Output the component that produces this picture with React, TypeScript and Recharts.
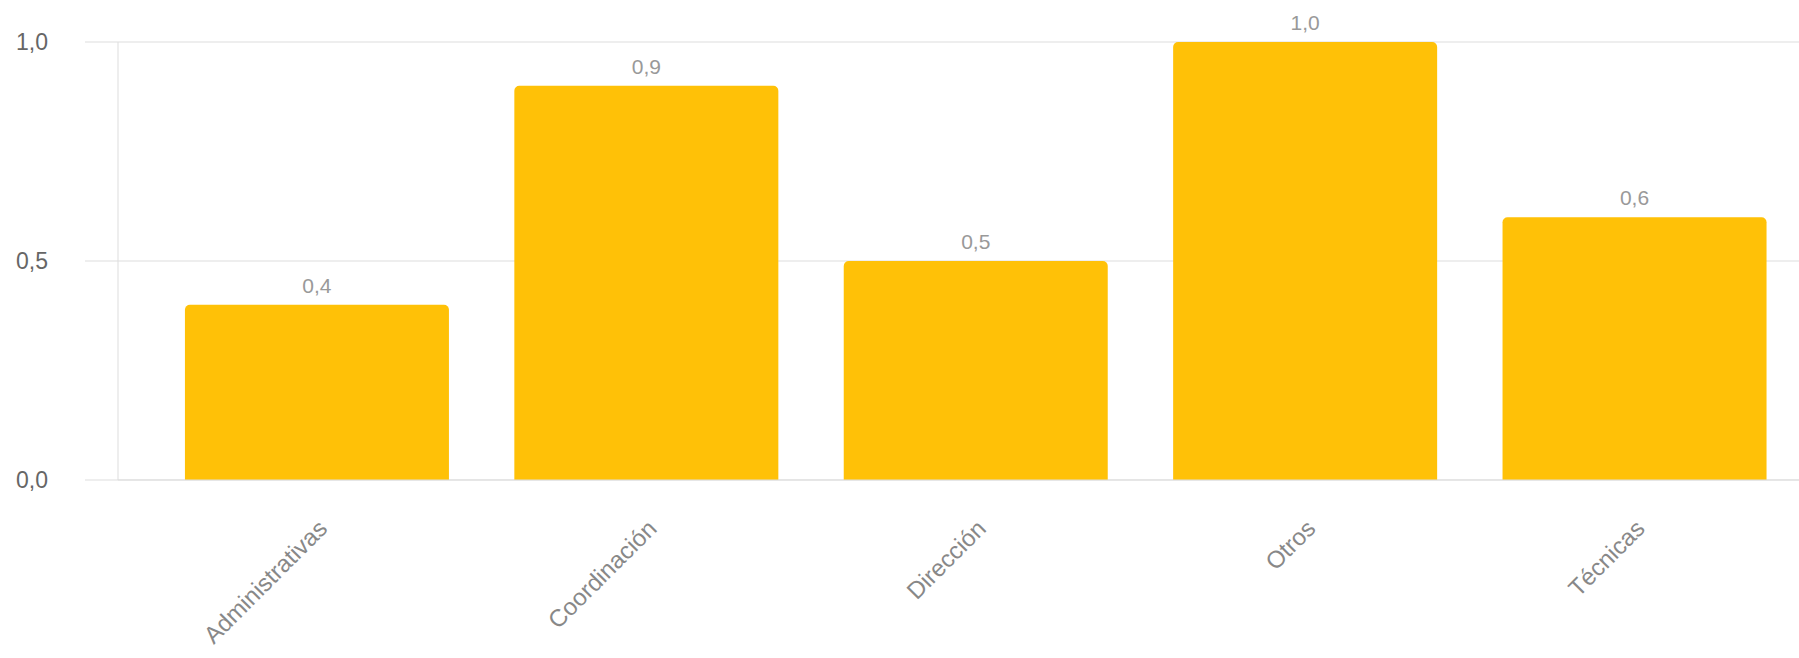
import React from 'react';
import {
  BarChart,
  Bar,
  XAxis,
  YAxis,
  CartesianGrid,
  LabelList
} from 'recharts';

const categories = ['Administrativas', 'Coordinación', 'Dirección', 'Otros', 'Técnicas'];
const values = [0.4, 0.9, 0.5, 1.0, 0.6];
const yTicks = [0, 0.5, 1];

const data = categories.map((name, i) => ({ name, value: values[i] }));

const fmt = (v: number) => v.toFixed(1).replace('.', ',');

const FONT = '"Liberation Sans", Arial, sans-serif';

const XTick = (props: any) => {
  const { x, y, payload } = props;
  return (
    <g transform={`translate(${x + 12},${y + 42})`}>
      <text
        transform="rotate(-45)"
        textAnchor="end"
        fill="#888"
        fontSize={24}
        fontFamily={FONT}
      >
        {payload.value}
      </text>
    </g>
  );
};

export default function App() {
  return (
    <div style={{ position: 'absolute', left: 0, top: 0, background: '#fff' }}>
      <BarChart
        width={1799}
        height={658}
        data={data}
        margin={{ top: 42, right: 0, left: 0, bottom: 0 }}
        barCategoryGap="10%"
      >
        <CartesianGrid vertical={false} stroke="#dddddd" />
        <XAxis
          dataKey="name"
          height={178}
          padding={{ left: 34, right: 0 }}
          axisLine={{ stroke: '#dddddd' }}
          tickLine={false}
          interval={0}
          tick={<XTick />}
        />
        <YAxis
          type="number"
          domain={[0, 1]}
          ticks={yTicks}
          width={118}
          tickFormatter={fmt}
          axisLine={{ stroke: '#dddddd' }}
          tickLine={{ stroke: '#dddddd' }}
          tickSize={33}
          tickMargin={37}
          tick={{ fontSize: 23, fill: '#666', fontFamily: FONT }}
        />
        <Bar dataKey="value" fill="#FFC107" radius={[5, 5, 0, 0]} isAnimationActive={false}>
          <LabelList
            dataKey="value"
            position="top"
            offset={12}
            formatter={(v: number) => fmt(v)}
            style={{ fontSize: 21, fill: '#999', fontFamily: FONT }}
          />
        </Bar>
      </BarChart>
    </div>
  );
}
